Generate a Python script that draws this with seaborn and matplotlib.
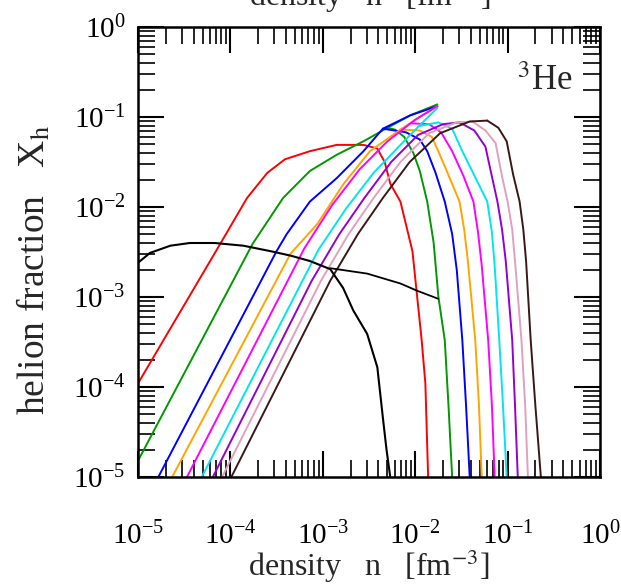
import numpy as np
import pandas as pd
import matplotlib
matplotlib.use("Agg")
import matplotlib.pyplot as plt
import seaborn as sns
from matplotlib.ticker import LogLocator, LogFormatterSciNotation, NullFormatter

# ---------------- data (log10 values) ----------------
x_ticks = [1e-5, 1e-4, 1e-3, 1e-2, 1e-1, 1e0]
y_ticks = [1e-5, 1e-4, 1e-3, 1e-2, 1e-1, 1e0]

curve_names = ["red", "green", "blue", "orange", "magenta", "cyan", "violet", "pink", "dark"]
curve_colors = ["#ff0000", "#009900", "#0000ff", "#ffa500", "#ff00ff", "#00e5ee",
                "#9400d3", "#e0a0c0", "#3a1818"]

# ascending branches (log10 n, log10 X)
asc_logn = {
    "red":     [-5.00, -4.11, -3.82, -3.60, -3.41, -3.14, -2.85, -2.56, -2.41, -2.33, -2.27, -2.16, -2.03, -1.93, -1.89, -1.86],
    "green":   [-5.00, -3.76, -3.43, -3.14, -2.85, -2.56, -2.30, -2.05, -1.76],
    "blue":    [-4.78, -3.50, -3.39, -3.14, -2.85, -2.56, -2.35, -2.05, -1.76],
    "orange":  [-4.63, -3.35, -3.06, -2.78, -2.49, -2.16, -1.95, -1.76],
    "magenta": [-4.47, -3.20, -2.90, -2.60, -2.30, -2.00, -1.76],
    "cyan":    [-4.31, -3.05, -2.75, -2.45, -2.15, -1.92, -1.76],
    "violet":  [-4.19, -3.12, -2.82, -2.55, -2.26, -1.97, -1.70, -1.52],
    "pink":    [-4.09, -3.02, -2.72, -2.45, -2.16, -1.85, -1.55, -1.38],
    "dark":    [-3.99, -2.92, -2.62, -2.35, -2.06, -1.73, -1.41, -1.22],
}
asc_logX = {
    "red":     [-3.96, -2.41, -1.90, -1.62, -1.47, -1.38, -1.31, -1.31, -1.35, -1.50, -1.74, -1.94, -2.49, -3.48, -3.96, -5.00],
    "green":   [-4.82, -2.41, -1.90, -1.60, -1.42, -1.27, -1.12, -0.98, -0.86],
    "blue":    [-5.00, -2.49, -2.30, -1.94, -1.68, -1.38, -1.13, -0.98, -0.88],
    "orange":  [-5.00, -2.52, -2.19, -1.75, -1.38, -1.14, -1.00, -0.88],
    "magenta": [-5.00, -2.46, -1.98, -1.58, -1.27, -1.03, -0.88],
    "cyan":    [-5.00, -2.48, -2.02, -1.62, -1.30, -1.06, -0.90],
    "violet":  [-5.00, -2.82, -2.30, -1.90, -1.50, -1.20, -1.08, -1.06],
    "pink":    [-5.00, -2.82, -2.30, -1.90, -1.50, -1.18, -1.06, -1.05],
    "dark":    [-5.00, -2.82, -2.30, -1.90, -1.50, -1.18, -1.05, -1.04],
}
# descending branches (log10 n, log10 X)
desc_logn = {
    "green":   [-2.30, -2.22, -2.12, -2.02, -1.95, -1.87, -1.80, -1.75, -1.68, -1.64, -1.60],
    "blue":    [-2.35, -2.10, -1.95, -1.87, -1.78, -1.68, -1.60, -1.55, -1.49, -1.45, -1.41],
    "orange":  [-2.16, -1.95, -1.82, -1.75, -1.65, -1.52, -1.47, -1.43, -1.35, -1.31, -1.28],
    "magenta": [-2.05, -1.85, -1.72, -1.60, -1.48, -1.37, -1.32, -1.28, -1.21, -1.17, -1.14],
    "cyan":    [-1.95, -1.75, -1.60, -1.49, -1.36, -1.22, -1.17, -1.14, -1.09, -1.05, -1.01],
    "violet":  [-1.52, -1.36, -1.24, -1.17, -1.11, -1.06, -1.02, -0.95, -0.92, -0.89],
    "pink":    [-1.38, -1.24, -1.13, -1.06, -1.00, -0.95, -0.92, -0.85, -0.81, -0.78],
    "dark":    [-1.22, -1.10, -1.01, -0.94, -0.87, -0.83, -0.80, -0.75, -0.70, -0.64],
}
desc_logX = {
    "green":   [-1.12, -1.14, -1.22, -1.40, -1.60, -1.94, -2.40, -2.99, -3.48, -4.20, -5.00],
    "blue":    [-1.13, -1.17, -1.25, -1.38, -1.62, -1.94, -2.30, -2.70, -3.48, -4.20, -5.00],
    "orange":  [-1.14, -1.15, -1.22, -1.38, -1.62, -1.94, -2.25, -2.60, -3.48, -4.20, -5.00],
    "magenta": [-1.07, -1.08, -1.17, -1.38, -1.65, -1.94, -2.28, -2.65, -3.48, -4.20, -5.00],
    "cyan":    [-1.10, -1.06, -1.13, -1.38, -1.65, -1.94, -2.28, -2.65, -3.48, -4.20, -5.00],
    "violet":  [-1.06, -1.15, -1.33, -1.66, -1.94, -2.25, -2.60, -3.48, -4.20, -5.00],
    "pink":    [-1.05, -1.15, -1.29, -1.66, -1.94, -2.25, -2.60, -3.48, -4.20, -5.00],
    "dark":    [-1.04, -1.12, -1.27, -1.64, -1.94, -2.25, -2.60, -3.48, -4.20, -5.00],
}

# black low-temperature curve
black_logn = [-5.00, -4.87, -4.65, -4.44, -4.17, -3.86, -3.57, -3.35, -3.14, -2.92, -2.78, -2.67,
              -2.52, -2.41, -2.35, -2.31, -2.27]
black_logX = [-2.62, -2.51, -2.43, -2.40, -2.40, -2.43, -2.49, -2.54, -2.60, -2.69, -2.90, -3.15,
              -3.41, -3.78, -4.34, -4.70, -5.00]
# black connecting line
line_logn = [-2.92, -2.52, -2.16, -1.98, -1.75]
line_logX = [-2.68, -2.74, -2.85, -2.93, -3.02]

# ---------------- style ----------------
sns.set_theme(style="ticks")
plt.rcParams["font.family"] = ["serif"]
plt.rcParams["font.serif"] = ["Liberation Serif", "DejaVu Serif"]
plt.rcParams["mathtext.fontset"] = "stix"

W, H = 621, 587
fig = plt.figure(figsize=(W / 100, H / 100), dpi=100)
ax = fig.add_axes([138 / W, 1 - 477 / H, (600 - 138) / W, (477 - 27) / H])


def draw(logn, logX, color, lw=1.4):
    df = pd.DataFrame({"n": 10 ** np.asarray(logn), "X": 10 ** np.asarray(logX)})
    sns.lineplot(data=df, x="n", y="X", ax=ax, color=color, lw=lw,
                 sort=False, estimator=None, legend=False)


for name, col in zip(curve_names, curve_colors):
    draw(asc_logn[name], asc_logX[name], col)
    if name in desc_logn:
        draw(desc_logn[name], desc_logX[name], col)

draw(black_logn, black_logX, "black", 1.5)
draw(line_logn, line_logX, "black", 1.3)

ax.set_xscale("log")
ax.set_yscale("log")
ax.set_xlim(1e-5, 1)
ax.set_ylim(1e-5, 1)
ax.set_xticks(x_ticks)
ax.set_yticks(y_ticks)
for axis in (ax.xaxis, ax.yaxis):
    axis.set_major_formatter(LogFormatterSciNotation())
    axis.set_minor_locator(LogLocator(base=10, subs=np.arange(2, 10), numticks=20))
    axis.set_minor_formatter(NullFormatter())

ax.tick_params(which="both", direction="in", top=True, right=True, colors="black")
ax.tick_params(which="major", length=19, width=1.5, labelsize=21)
ax.tick_params(axis="x", which="major", pad=32)
ax.tick_params(axis="y", which="major", pad=9)
ax.tick_params(which="minor", length=12, width=1.2)
for s in ax.spines.values():
    s.set_linewidth(1.8)
    s.set_color("black")

ax.set_xlabel(r"density   n   [fm$^{-3}$]", fontsize=23, labelpad=-2)
ax.set_ylabel(r"helion fraction   X$_\mathrm{h}$", fontsize=27)
ax.yaxis.set_label_coords(-0.185, 0.46)
ax.text(0.82, 0.88, r"$^{3}$He", transform=ax.transAxes, fontsize=25,
        ha="left", va="center")
# clipped label of the panel above
fig.text(0.595, 1 - 6 / H, r"density   n   [fm$^{-3}$]", fontsize=23,
         ha="center", va="baseline")

fig.savefig("out.png", dpi=100)
